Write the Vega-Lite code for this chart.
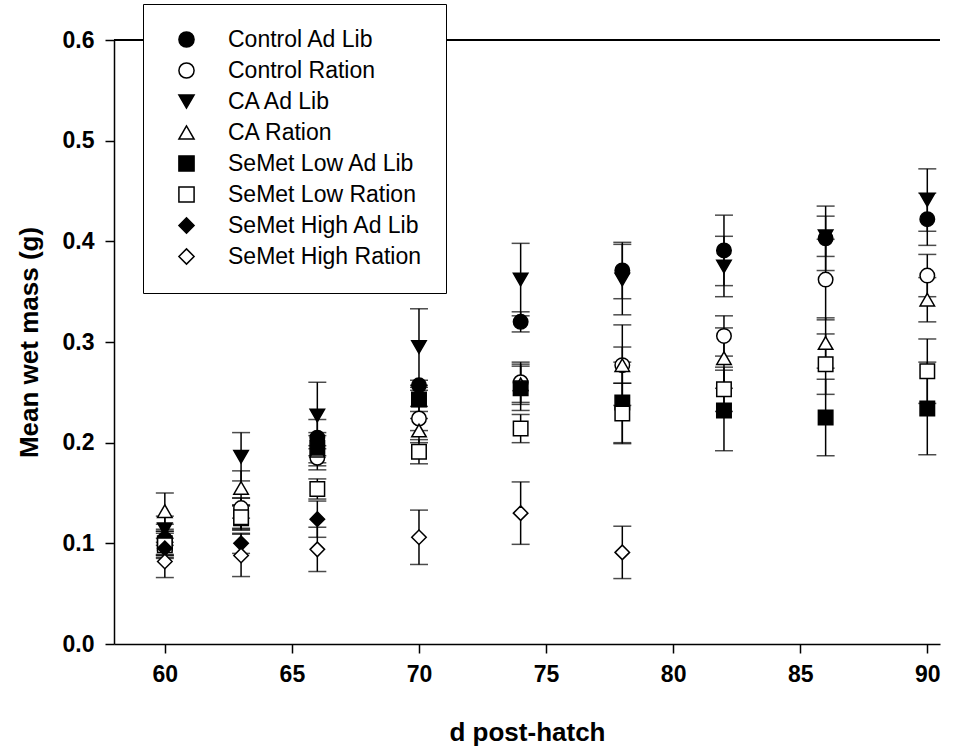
{
  "$schema": "https://vega.github.io/schema/vega-lite/v6.json",
  "width": 826,
  "height": 604,
  "autosize": "none",
  "padding": {"left": 114, "top": 40, "right": 27, "bottom": 103},
  "background": "white",
  "config": {
    "view": {"stroke": null},
    "font": "Liberation Sans",
    "axis": {
      "grid": false,
      "domainColor": "black",
      "domainWidth": 1.5,
      "tickColor": "black",
      "tickWidth": 1.5,
      "tickSize": 9,
      "labelFont": "Liberation Sans",
      "labelFontWeight": "bold",
      "labelFontSize": 23,
      "labelColor": "black",
      "titleFont": "Liberation Sans",
      "titleFontWeight": "bold",
      "titleFontSize": 26,
      "titleColor": "black"
    },
    "legend": {
      "symbolSize": 230,
      "symbolStrokeWidth": 1.5,
      "symbolStrokeColor": "black"
    }
  },
  "data": {
    "values": [
      {"day": 60, "group": "Control Ad Lib", "mean": 0.104, "lo": 0.089, "hi": 0.119},
      {"day": 60, "group": "Control Ration", "mean": 0.100, "lo": 0.088, "hi": 0.112},
      {"day": 60, "group": "CA Ad Lib", "mean": 0.114, "lo": 0.101, "hi": 0.127},
      {"day": 60, "group": "CA Ration", "mean": 0.132, "lo": 0.114, "hi": 0.150},
      {"day": 60, "group": "SeMet Low Ad Lib", "mean": 0.100, "lo": 0.088, "hi": 0.112},
      {"day": 60, "group": "SeMet Low Ration", "mean": 0.098, "lo": 0.086, "hi": 0.110},
      {"day": 60, "group": "SeMet High Ad Lib", "mean": 0.095, "lo": 0.085, "hi": 0.105},
      {"day": 60, "group": "SeMet High Ration", "mean": 0.082, "lo": 0.066, "hi": 0.098},

      {"day": 63, "group": "Control Ad Lib", "mean": 0.130, "lo": 0.115, "hi": 0.145},
      {"day": 63, "group": "Control Ration", "mean": 0.135, "lo": 0.125, "hi": 0.145},
      {"day": 63, "group": "CA Ad Lib", "mean": 0.186, "lo": 0.162, "hi": 0.210},
      {"day": 63, "group": "CA Ration", "mean": 0.155, "lo": 0.138, "hi": 0.172},
      {"day": 63, "group": "SeMet Low Ad Lib", "mean": 0.125, "lo": 0.113, "hi": 0.137},
      {"day": 63, "group": "SeMet Low Ration", "mean": 0.126, "lo": 0.114, "hi": 0.138},
      {"day": 63, "group": "SeMet High Ad Lib", "mean": 0.100, "lo": 0.090, "hi": 0.110},
      {"day": 63, "group": "SeMet High Ration", "mean": 0.088, "lo": 0.067, "hi": 0.109},

      {"day": 66, "group": "Control Ad Lib", "mean": 0.205, "lo": 0.187, "hi": 0.223},
      {"day": 66, "group": "Control Ration", "mean": 0.185, "lo": 0.173, "hi": 0.197},
      {"day": 66, "group": "CA Ad Lib", "mean": 0.227, "lo": 0.194, "hi": 0.260},
      {"day": 66, "group": "CA Ration", "mean": 0.192, "lo": 0.177, "hi": 0.207},
      {"day": 66, "group": "SeMet Low Ad Lib", "mean": 0.195, "lo": 0.180, "hi": 0.210},
      {"day": 66, "group": "SeMet Low Ration", "mean": 0.154, "lo": 0.144, "hi": 0.164},
      {"day": 66, "group": "SeMet High Ad Lib", "mean": 0.124, "lo": 0.106, "hi": 0.142},
      {"day": 66, "group": "SeMet High Ration", "mean": 0.094, "lo": 0.072, "hi": 0.116},

      {"day": 70, "group": "Control Ad Lib", "mean": 0.257, "lo": 0.252, "hi": 0.262},
      {"day": 70, "group": "Control Ration", "mean": 0.224, "lo": 0.212, "hi": 0.236},
      {"day": 70, "group": "CA Ad Lib", "mean": 0.295, "lo": 0.257, "hi": 0.333},
      {"day": 70, "group": "CA Ration", "mean": 0.212, "lo": 0.200, "hi": 0.224},
      {"day": 70, "group": "SeMet Low Ad Lib", "mean": 0.243, "lo": 0.231, "hi": 0.255},
      {"day": 70, "group": "SeMet Low Ration", "mean": 0.191, "lo": 0.179, "hi": 0.203},
      {"day": 70, "group": "SeMet High Ration", "mean": 0.106, "lo": 0.079, "hi": 0.133},

      {"day": 74, "group": "Control Ad Lib", "mean": 0.320, "lo": 0.310, "hi": 0.330},
      {"day": 74, "group": "Control Ration", "mean": 0.260, "lo": 0.240, "hi": 0.280},
      {"day": 74, "group": "CA Ad Lib", "mean": 0.362, "lo": 0.326, "hi": 0.398},
      {"day": 74, "group": "CA Ration", "mean": 0.258, "lo": 0.238, "hi": 0.278},
      {"day": 74, "group": "SeMet Low Ad Lib", "mean": 0.254, "lo": 0.232, "hi": 0.276},
      {"day": 74, "group": "SeMet Low Ration", "mean": 0.214, "lo": 0.200, "hi": 0.228},
      {"day": 74, "group": "SeMet High Ration", "mean": 0.130, "lo": 0.099, "hi": 0.161},

      {"day": 78, "group": "Control Ad Lib", "mean": 0.371, "lo": 0.343, "hi": 0.399},
      {"day": 78, "group": "Control Ration", "mean": 0.277, "lo": 0.237, "hi": 0.317},
      {"day": 78, "group": "CA Ad Lib", "mean": 0.362, "lo": 0.327, "hi": 0.397},
      {"day": 78, "group": "CA Ration", "mean": 0.277, "lo": 0.259, "hi": 0.295},
      {"day": 78, "group": "SeMet Low Ad Lib", "mean": 0.240, "lo": 0.200, "hi": 0.280},
      {"day": 78, "group": "SeMet Low Ration", "mean": 0.229, "lo": 0.199, "hi": 0.259},
      {"day": 78, "group": "SeMet High Ration", "mean": 0.091, "lo": 0.065, "hi": 0.117},

      {"day": 82, "group": "Control Ad Lib", "mean": 0.391, "lo": 0.356, "hi": 0.426},
      {"day": 82, "group": "Control Ration", "mean": 0.306, "lo": 0.286, "hi": 0.326},
      {"day": 82, "group": "CA Ad Lib", "mean": 0.375, "lo": 0.345, "hi": 0.405},
      {"day": 82, "group": "CA Ration", "mean": 0.284, "lo": 0.254, "hi": 0.314},
      {"day": 82, "group": "SeMet Low Ad Lib", "mean": 0.232, "lo": 0.192, "hi": 0.272},
      {"day": 82, "group": "SeMet Low Ration", "mean": 0.253, "lo": 0.231, "hi": 0.275},

      {"day": 86, "group": "Control Ad Lib", "mean": 0.403, "lo": 0.371, "hi": 0.435},
      {"day": 86, "group": "Control Ration", "mean": 0.362, "lo": 0.322, "hi": 0.402},
      {"day": 86, "group": "CA Ad Lib", "mean": 0.405, "lo": 0.385, "hi": 0.425},
      {"day": 86, "group": "CA Ration", "mean": 0.299, "lo": 0.274, "hi": 0.324},
      {"day": 86, "group": "SeMet Low Ad Lib", "mean": 0.225, "lo": 0.187, "hi": 0.263},
      {"day": 86, "group": "SeMet Low Ration", "mean": 0.278, "lo": 0.248, "hi": 0.308},

      {"day": 90, "group": "Control Ad Lib", "mean": 0.422, "lo": 0.396, "hi": 0.448},
      {"day": 90, "group": "Control Ration", "mean": 0.366, "lo": 0.345, "hi": 0.387},
      {"day": 90, "group": "CA Ad Lib", "mean": 0.441, "lo": 0.410, "hi": 0.472},
      {"day": 90, "group": "CA Ration", "mean": 0.342, "lo": 0.320, "hi": 0.364},
      {"day": 90, "group": "SeMet Low Ad Lib", "mean": 0.234, "lo": 0.188, "hi": 0.280},
      {"day": 90, "group": "SeMet Low Ration", "mean": 0.271, "lo": 0.239, "hi": 0.303}
    ]
  },
  "layer": [
    {
      "mark": {"type": "rule", "color": "black", "strokeWidth": 1.5},
      "encoding": {"y": {"datum": 0.6, "type": "quantitative"}}
    },
    {
      "mark": {"type": "rule", "color": "black", "strokeWidth": 1.5},
      "encoding": {
        "x": {"field": "day", "type": "quantitative", "scale": {"domain": [58, 90.5], "nice": false, "zero": false},
          "axis": {"values": [60, 65, 70, 75, 80, 85, 90], "title": "d post-hatch", "labelPadding": 10, "titlePadding": 33}},
        "y": {"field": "lo", "type": "quantitative", "scale": {"domain": [0, 0.6], "nice": false},
          "axis": {"values": [0, 0.1, 0.2, 0.3, 0.4, 0.5, 0.6], "format": ".1f", "title": "Mean wet mass (g)", "labelPadding": 11, "titlePadding": 20}},
        "y2": {"field": "hi"}
      }
    },
    {
      "mark": {"type": "tick", "orient": "horizontal", "size": 18, "thickness": 1.5, "color": "black"},
      "encoding": {
        "x": {"field": "day", "type": "quantitative"},
        "y": {"field": "lo", "type": "quantitative"}
      }
    },
    {
      "mark": {"type": "tick", "orient": "horizontal", "size": 18, "thickness": 1.5, "color": "black"},
      "encoding": {
        "x": {"field": "day", "type": "quantitative"},
        "y": {"field": "hi", "type": "quantitative"}
      }
    },
    {
      "mark": {"type": "point", "filled": true, "strokeWidth": 1.5, "size": 210, "opacity": 1},
      "encoding": {
        "x": {"field": "day", "type": "quantitative"},
        "y": {"field": "mean", "type": "quantitative"},
        "shape": {
          "field": "group", "type": "nominal",
          "scale": {
            "domain": ["Control Ad Lib", "Control Ration", "CA Ad Lib", "CA Ration", "SeMet Low Ad Lib", "SeMet Low Ration", "SeMet High Ad Lib", "SeMet High Ration"],
            "range": ["circle", "circle", "triangle-down", "triangle-up", "square", "square", "diamond", "diamond"]
          },
          "legend": {
            "title": null, "orient": "none", "legendX": 29, "legendY": -36,
            "padding": 24, "strokeColor": "black", "fillColor": "white",
            "labelFont": "Liberation Sans", "labelFontSize": 23, "labelColor": "black",
            "symbolOffset": 8, "labelOffset": 30, "rowPadding": 7, "labelLimit": 400
          }
        },
        "fill": {
          "field": "group", "type": "nominal",
          "scale": {
            "domain": ["Control Ad Lib", "Control Ration", "CA Ad Lib", "CA Ration", "SeMet Low Ad Lib", "SeMet Low Ration", "SeMet High Ad Lib", "SeMet High Ration"],
            "range": ["black", "white", "black", "white", "black", "white", "black", "white"]
          },
          "legend": {
            "title": null, "orient": "none", "legendX": 29, "legendY": -36,
            "padding": 24, "strokeColor": "black", "fillColor": "white",
            "labelFont": "Liberation Sans", "labelFontSize": 23, "labelColor": "black",
            "symbolOffset": 8, "labelOffset": 30, "rowPadding": 7, "labelLimit": 400
          }
        },
        "stroke": {
          "field": "group", "type": "nominal",
          "scale": {
            "domain": ["Control Ad Lib", "Control Ration", "CA Ad Lib", "CA Ration", "SeMet Low Ad Lib", "SeMet Low Ration", "SeMet High Ad Lib", "SeMet High Ration"],
            "range": ["black", "black", "black", "black", "black", "black", "black", "black"]
          },
          "legend": {
            "title": null, "orient": "none", "legendX": 29, "legendY": -36,
            "padding": 24, "strokeColor": "black", "fillColor": "white",
            "labelFont": "Liberation Sans", "labelFontSize": 23, "labelColor": "black",
            "symbolOffset": 8, "labelOffset": 30, "rowPadding": 7, "labelLimit": 400
          }
        }
      }
    }
  ]
}
